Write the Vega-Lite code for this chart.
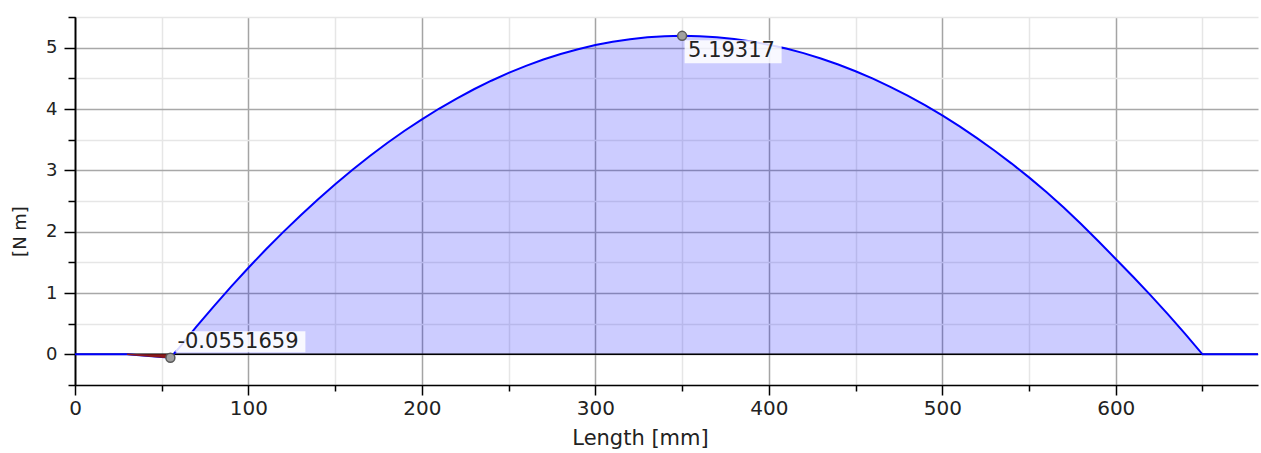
{
  "$schema": "https://vega.github.io/schema/vega-lite/v6.json",
  "width": 1183,
  "height": 368,
  "autosize": {"type": "none"},
  "padding": {"left": 75, "top": 17, "right": 3, "bottom": 68},
  "background": "white",
  "config": {
    "view": {"stroke": null},
    "font": "DejaVu Sans",
    "axis": {"domainColor": "#000000", "domainWidth": 1.5, "tickColor": "#000000", "tickWidth": 1.5, "labelColor": "#222222", "titleColor": "#222222", "labelFont": "DejaVu Sans", "titleFont": "DejaVu Sans", "titleFontWeight": "normal"}
  },
  "resolve": {"axis": {"y": "independent"}},
  "datasets": {
    "curve": [
      {"x": 0, "m": 0}, {"x": 30, "m": 0}, {"x": 55, "m": -0.0551659},
      {"x": 60, "m": 0.106}, {"x": 70, "m": 0.451}, {"x": 80, "m": 0.783}, {"x": 90, "m": 1.104},
      {"x": 100, "m": 1.412}, {"x": 110, "m": 1.709}, {"x": 120, "m": 1.993}, {"x": 130, "m": 2.265},
      {"x": 140, "m": 2.525}, {"x": 150, "m": 2.774}, {"x": 160, "m": 3.009}, {"x": 170, "m": 3.233},
      {"x": 180, "m": 3.445}, {"x": 190, "m": 3.645}, {"x": 200, "m": 3.832}, {"x": 210, "m": 4.008},
      {"x": 220, "m": 4.171}, {"x": 230, "m": 4.322}, {"x": 240, "m": 4.461}, {"x": 250, "m": 4.588},
      {"x": 260, "m": 4.703}, {"x": 270, "m": 4.806}, {"x": 280, "m": 4.897}, {"x": 290, "m": 4.975},
      {"x": 300, "m": 5.042}, {"x": 310, "m": 5.096}, {"x": 320, "m": 5.139}, {"x": 330, "m": 5.169},
      {"x": 340, "m": 5.187}, {"x": 350, "m": 5.19317}, {"x": 360, "m": 5.187}, {"x": 370, "m": 5.170},
      {"x": 380, "m": 5.141}, {"x": 390, "m": 5.101}, {"x": 400, "m": 5.049}, {"x": 410, "m": 4.985},
      {"x": 420, "m": 4.911}, {"x": 430, "m": 4.824}, {"x": 440, "m": 4.726}, {"x": 450, "m": 4.616},
      {"x": 460, "m": 4.495}, {"x": 470, "m": 4.362}, {"x": 480, "m": 4.218}, {"x": 490, "m": 4.062},
      {"x": 500, "m": 3.895}, {"x": 510, "m": 3.716}, {"x": 520, "m": 3.526}, {"x": 530, "m": 3.324},
      {"x": 540, "m": 3.110}, {"x": 550, "m": 2.885}, {"x": 560, "m": 2.645}, {"x": 570, "m": 2.395},
      {"x": 580, "m": 2.125}, {"x": 590, "m": 1.845}, {"x": 600, "m": 1.555}, {"x": 610, "m": 1.265},
      {"x": 620, "m": 0.965}, {"x": 630, "m": 0.655}, {"x": 640, "m": 0.335}, {"x": 650, "m": 0},
      {"x": 682, "m": 0}
    ]
  },
  "layer": [
    {
      "data": {"name": "curve"},
      "mark": {"type": "area", "color": "#0000ff", "opacity": 0.2},
      "encoding": {
        "x": {
          "field": "x", "type": "quantitative",
          "scale": {"domain": [0, 682], "nice": false, "zero": false},
          "axis": {
            "title": "Length [mm]",
            "values": [0, 50, 100, 150, 200, 250, 300, 350, 400, 450, 500, 550, 600, 650],
            "labelExpr": "datum.value % 100 === 0 ? datum.label : ''",
            "labelFontSize": 20,
            "labelPadding": 3,
            "labelFlush": false,
            "labelOverlap": false,
            "tickSize": {"condition": {"test": "datum.value % 100 === 0", "value": 10}, "value": 6},
            "grid": true,
            "gridColor": {"condition": {"test": "datum.value % 100 === 0", "value": "#a4a4a4"}, "value": "#e6e6e6"},
            "gridWidth": 1.5,
            "titleFontSize": 21,
            "titleX": 565,
            "titleY": 53,
            "titleBaseline": "middle",
            "titleAnchor": null
          }
        },
        "y": {
          "field": "m", "type": "quantitative",
          "scale": {"domain": [-0.5, 5.5], "nice": false, "zero": false},
          "axis": {
            "orient": "left",
            "title": null,
            "values": [-0.5, 0.5, 1.5, 2.5, 3.5, 4.5, 5.5],
            "labels": false,
            "tickSize": 7,
            "grid": true,
            "gridColor": "#e6e6e6",
            "gridWidth": 1.5
          }
        }
      }
    },
    {
      "data": {"values": [{}]},
      "mark": {"type": "rule", "color": "#000000", "strokeWidth": 1.5},
      "encoding": {"y": {"datum": 0, "type": "quantitative", "axis": null}}
    },
    {
      "data": {"name": "curve"},
      "mark": {"type": "line", "color": "#0000ff", "strokeWidth": 2},
      "encoding": {
        "x": {"field": "x", "type": "quantitative"},
        "y": {
          "field": "m", "type": "quantitative",
          "axis": {
            "orient": "left",
            "title": "[N m]",
            "values": [0, 1, 2, 3, 4, 5],
            "format": "d",
            "labelFontSize": 18,
            "labelPadding": 7,
            "labelFlush": false,
            "labelOverlap": false,
            "tickSize": 11,
            "grid": true,
            "gridColor": "#a8a8a8",
            "gridWidth": 1.5,
            "titleFontSize": 18,
            "titleAngle": -90,
            "titleX": -55,
            "titleY": 214,
            "titleAlign": "center",
            "titleBaseline": "middle",
            "titleAnchor": null
          }
        }
      }
    },
    {
      "data": {"name": "curve"},
      "transform": [{"filter": "datum.x >= 30 && datum.x <= 55"}],
      "mark": {"type": "area", "color": "#8b1a1a", "opacity": 1, "line": {"color": "#8b1a1a", "strokeWidth": 1.5}},
      "encoding": {
        "x": {"field": "x", "type": "quantitative"},
        "y": {"field": "m", "type": "quantitative", "axis": null}
      }
    },
    {
      "data": {"values": [{"x": 350, "m": 5.19317, "label": "5.19317"}]},
      "layer": [
        {"mark": {"type": "rect", "width": 97, "height": 23, "xOffset": 51, "yOffset": 16, "color": "white", "opacity": 0.85}},
        {"mark": {"type": "text", "align": "left", "baseline": "alphabetic", "dx": 6, "dy": 21, "fontSize": 21, "color": "#222222", "font": "DejaVu Sans"}, "encoding": {"text": {"field": "label"}}},
        {"mark": {"type": "point", "filled": true, "size": 80, "fill": "#a0a0a0", "stroke": "#5a5a5a", "strokeWidth": 1.5, "opacity": 1}}
      ],
      "encoding": {
        "x": {"field": "x", "type": "quantitative"},
        "y": {"field": "m", "type": "quantitative", "axis": null}
      }
    },
    {
      "data": {"values": [{"x": 55, "m": -0.0551659, "label": "-0.0551659"}]},
      "layer": [
        {"mark": {"type": "rect", "width": 130, "height": 21, "xOffset": 70, "yOffset": -16, "color": "white", "opacity": 0.85}},
        {"mark": {"type": "text", "align": "left", "baseline": "alphabetic", "dx": 7, "dy": -10, "fontSize": 21, "color": "#222222", "font": "DejaVu Sans"}, "encoding": {"text": {"field": "label"}}},
        {"mark": {"type": "point", "filled": true, "size": 80, "fill": "#a0a0a0", "stroke": "#5a5a5a", "strokeWidth": 1.5, "opacity": 1}}
      ],
      "encoding": {
        "x": {"field": "x", "type": "quantitative"},
        "y": {"field": "m", "type": "quantitative", "axis": null}
      }
    }
  ]
}
